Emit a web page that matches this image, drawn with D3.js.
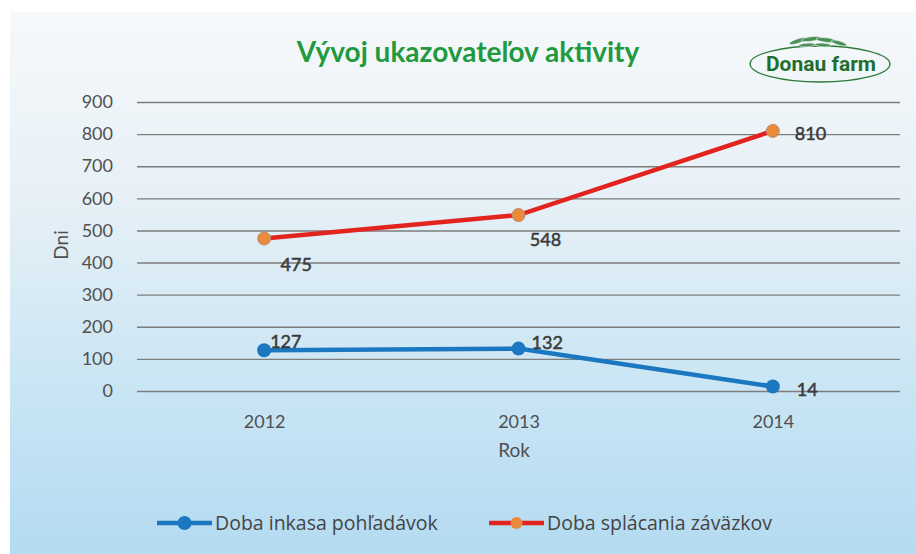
<!DOCTYPE html>
<html>
<head>
    <meta charset="UTF-8">
    <title>Vývoj ukazovateľov aktivity</title>
    <script src="https://cdn.jsdelivr.net/npm/d3@7"></script>
    <style>
        body, html { margin: 0; padding: 0; background: #fff; }
        svg { display: block; font-family: Lato, "Open Sans", sans-serif; }
    </style>
</head>
<body>
    <svg id="chart" width="916" height="554"></svg>

    <script>
        // data
        var years = ["2012", "2013", "2014"];
        var inkasa = [127, 132, 14];
        var splacania = [475, 548, 810];
        var yTicks = [0, 100, 200, 300, 400, 500, 600, 700, 800, 900];
        var seriesNames = ["Doba inkasa pohľadávok", "Doba splácania záväzkov"];

        // label placement relative to the point (dx, dy, anchor)
        var inkasaLabelPos = [[6, -2, "start"], [13, 0, "start"], [24, 9, "start"]];
        var splacaniaLabelPos = [[32, 33, "middle"], [27, 31, "middle"], [22, 9, "start"]];

        var svg = d3.select("#chart");

        // background
        var defs = svg.append("defs");
        var grad = defs.append("linearGradient")
            .attr("id", "bg").attr("x1", 0).attr("y1", 0).attr("x2", 0).attr("y2", 1);
        grad.append("stop").attr("offset", "0%").attr("stop-color", "#f7f9fb");
        grad.append("stop").attr("offset", "35%").attr("stop-color", "#e6f0f6");
        grad.append("stop").attr("offset", "70%").attr("stop-color", "#c9e5f4");
        grad.append("stop").attr("offset", "100%").attr("stop-color", "#b4dbf1");

        svg.append("rect")
            .attr("x", 10).attr("y", 12)
            .attr("width", 906).attr("height", 542)
            .attr("fill", "url(#bg)");

        var x = d3.scalePoint()
            .domain(years)
            .range([137, 900])
            .padding(0.5);

        var y = d3.scaleLinear()
            .domain([0, 900])
            .range([391, 102]);

        // y axis + gridlines
        var yAxis = svg.append("g")
            .attr("transform", "translate(137,0)")
            .call(d3.axisLeft(y).tickValues(yTicks).tickSize(-763).tickPadding(24));
        yAxis.select(".domain").remove();
        yAxis.selectAll(".tick line")
            .attr("stroke", "#7d7d7d")
            .attr("stroke-width", 1.4);
        yAxis.selectAll(".tick text")
            .attr("fill", "#505050")
            .attr("font-size", "18px")
            .attr("font-family", "Lato, sans-serif");

        // x axis
        var xAxis = svg.append("g")
            .attr("transform", "translate(0,391)")
            .call(d3.axisBottom(x).tickSize(0).tickPadding(24));
        xAxis.select(".domain").remove();
        xAxis.selectAll(".tick text")
            .attr("fill", "#505050")
            .attr("font-size", "18px")
            .attr("font-family", "Lato, sans-serif");

        // axis titles
        svg.append("text")
            .attr("transform", "translate(68,245) rotate(-90)")
            .attr("text-anchor", "middle")
            .attr("fill", "#505050")
            .attr("font-size", "19px")
            .text("Dni");

        svg.append("text")
            .attr("x", 514).attr("y", 457)
            .attr("text-anchor", "middle")
            .attr("fill", "#505050")
            .attr("font-size", "19px")
            .text("Rok");

        // title
        svg.append("text")
            .attr("x", 468).attr("y", 62)
            .attr("text-anchor", "middle")
            .attr("fill", "#1f9a3e")
            .attr("font-size", "28px")
            .attr("font-weight", "bold")
            .text("Vývoj ukazovateľov aktivity");

        // logo
        var logo = svg.append("g").attr("transform", "translate(820,64)");
        logo.append("ellipse")
            .attr("rx", 70).attr("ry", 18)
            .attr("fill", "none")
            .attr("stroke", "#2f7a3a")
            .attr("stroke-width", 1.3);
        [[-22, -23, 9, 2.2, -18], [-9, -25, 10, 2.2, -8], [6, -24, 10, 2.2, 6], [19, -21, 8, 2, 16], [-13, -19, 8, 1.8, -4], [3, -19, 8, 1.8, 4]]
            .forEach(function (e) {
                logo.append("ellipse")
                    .attr("cx", e[0]).attr("cy", e[1])
                    .attr("rx", e[2]).attr("ry", e[3])
                    .attr("transform", "rotate(" + e[4] + "," + e[0] + "," + e[1] + ")")
                    .attr("fill", "#4a8f55")
                    .attr("stroke", "#e8f0f0")
                    .attr("stroke-width", 0.6);
            });
        logo.append("text")
            .attr("x", 1).attr("y", 7)
            .attr("text-anchor", "middle")
            .attr("fill", "#1f6e30")
            .attr("font-size", "21px")
            .attr("font-weight", "bold")
            .attr("font-family", "Roboto, sans-serif")
            .text("Donau farm");

        // lines
        var line = d3.line()
            .x(function (d, i) { return x(years[i]); })
            .y(function (d) { return y(d); });

        svg.append("path")
            .datum(splacania)
            .attr("d", line)
            .attr("fill", "none")
            .attr("stroke", "#e2231e")
            .attr("stroke-width", 4.5);

        svg.append("path")
            .datum(inkasa)
            .attr("d", line)
            .attr("fill", "none")
            .attr("stroke", "#1b78c0")
            .attr("stroke-width", 4.5);

        svg.selectAll(".dot-s")
            .data(splacania)
            .enter()
            .append("circle")
            .attr("class", "dot-s")
            .attr("cx", function (d, i) { return x(years[i]); })
            .attr("cy", function (d) { return y(d); })
            .attr("r", 6.5)
            .attr("fill", "#ea8a3a")
            .attr("stroke", "#b98a6a")
            .attr("stroke-width", 1);

        svg.selectAll(".dot-i")
            .data(inkasa)
            .enter()
            .append("circle")
            .attr("class", "dot-i")
            .attr("cx", function (d, i) { return x(years[i]); })
            .attr("cy", function (d) { return y(d); })
            .attr("r", 7)
            .attr("fill", "#1b78c0");

        // data labels
        function labels(data, pos, cls) {
            svg.selectAll("." + cls)
                .data(data)
                .enter()
                .append("text")
                .attr("class", cls)
                .attr("x", function (d, i) { return x(years[i]) + pos[i][0]; })
                .attr("y", function (d, i) { return y(d) + pos[i][1]; })
                .attr("text-anchor", function (d, i) { return pos[i][2]; })
                .attr("fill", "#3a3a3a")
                .attr("stroke", "#3a3a3a")
                .attr("stroke-width", 0.5)
                .attr("font-size", "18px")
                .text(function (d) { return d; });
        }
        labels(splacania, splacaniaLabelPos, "lab-s");
        labels(inkasa, inkasaLabelPos, "lab-i");

        // legend
        var legend = svg.append("g").attr("transform", "translate(0,523)");
        var legendItems = [
            { name: seriesNames[0], x: 157, color: "#1b78c0", dot: "#1b78c0", r: 7 },
            { name: seriesNames[1], x: 489, color: "#e2231e", dot: "#ea8a3a", r: 6 }
        ];
        legendItems.forEach(function (it) {
            legend.append("line")
                .attr("x1", it.x).attr("x2", it.x + 55)
                .attr("stroke", it.color)
                .attr("stroke-width", 4.5);
            legend.append("circle")
                .attr("cx", it.x + 27.5)
                .attr("r", it.r)
                .attr("fill", it.dot);
            legend.append("text")
                .attr("x", it.x + 58)
                .attr("y", 7)
                .attr("fill", "#444")
                .attr("font-size", "19.5px")
                .attr("font-family", "'Open Sans', sans-serif")
                .text(it.name);
        });
    </script>
</body>
</html>
